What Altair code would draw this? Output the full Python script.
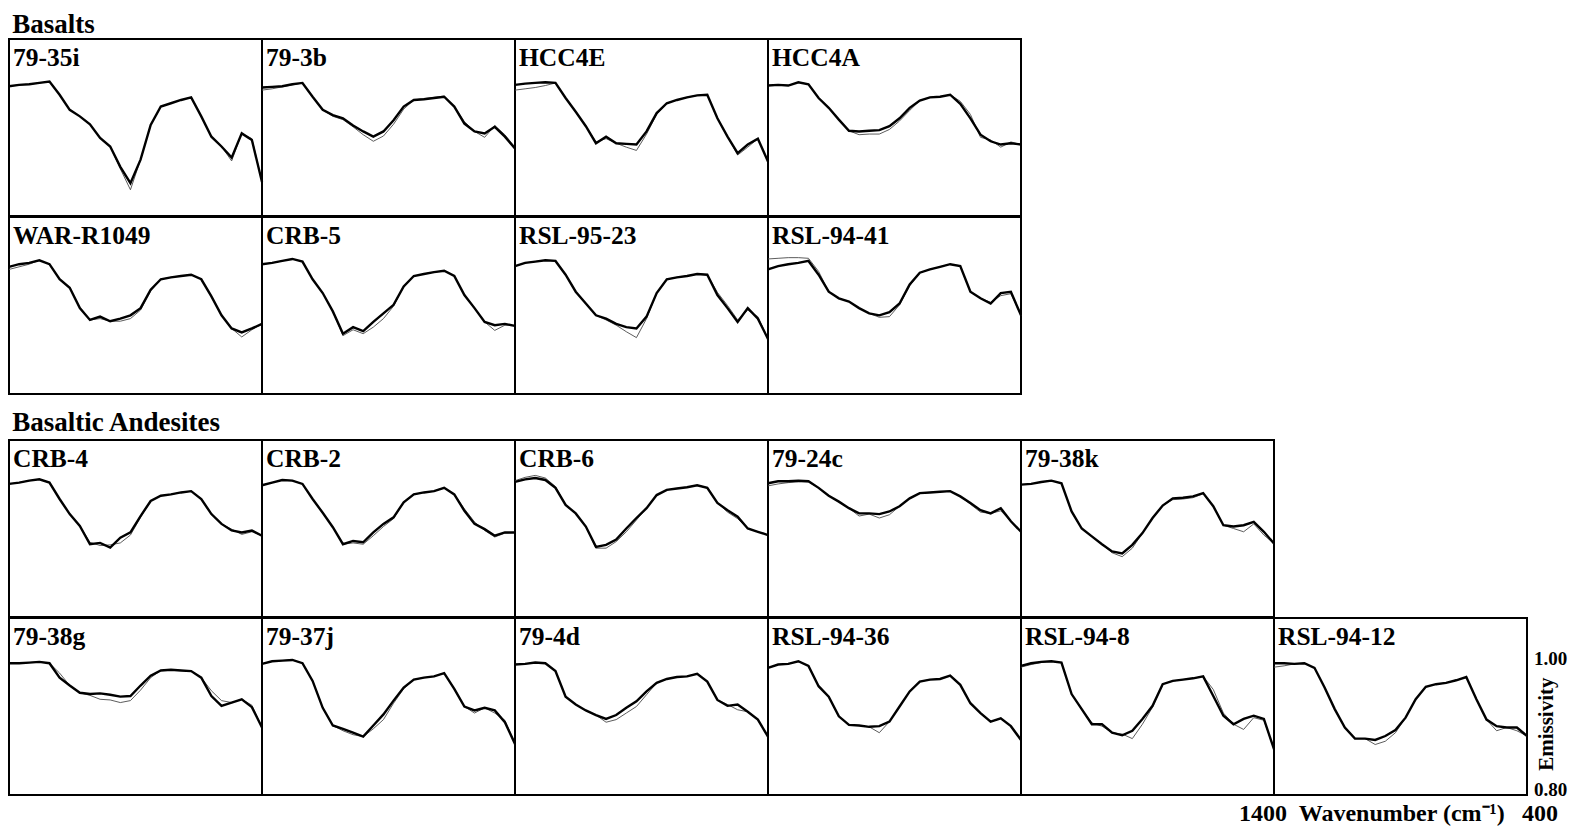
import altair as alt
import pandas as pd

# ---------------- data ----------------
wavenumbers = [1400, 1360, 1320, 1280, 1240, 1200, 1160, 1120, 1080, 1040, 1000, 960, 920,
               880, 840, 800, 760, 720, 680, 640, 600, 560, 520, 480, 440, 400]

basalt_row1 = ["79-35i", "79-3b", "HCC4E", "HCC4A"]
basalt_row2 = ["WAR-R1049", "CRB-5", "RSL-95-23", "RSL-94-41"]
andesite_row1 = ["CRB-4", "CRB-2", "CRB-6", "79-24c", "79-38k"]
andesite_row2 = ["79-38g", "79-37j", "79-4d", "RSL-94-36", "RSL-94-8", "RSL-94-12"]

measured = {
    "79-35i":    [0.998, 1.000, 1.001, 1.003, 1.005, 0.985, 0.962, 0.952, 0.940, 0.919, 0.906, 0.875, 0.850, 0.886, 0.939, 0.967, 0.972, 0.977, 0.981, 0.952, 0.921, 0.906, 0.889, 0.926, 0.916, 0.852],
    "79-3b":     [0.996, 0.997, 0.998, 1.001, 1.003, 0.982, 0.962, 0.954, 0.949, 0.938, 0.929, 0.921, 0.929, 0.946, 0.967, 0.977, 0.978, 0.980, 0.982, 0.967, 0.941, 0.929, 0.926, 0.936, 0.921, 0.903],
    "HCC4E":     [1.000, 1.002, 1.003, 1.004, 1.003, 0.980, 0.959, 0.937, 0.911, 0.921, 0.911, 0.910, 0.909, 0.929, 0.957, 0.972, 0.977, 0.981, 0.984, 0.985, 0.949, 0.921, 0.896, 0.909, 0.918, 0.883],
    "HCC4A":     [0.999, 1.000, 0.999, 1.004, 1.001, 0.980, 0.965, 0.947, 0.930, 0.929, 0.930, 0.931, 0.937, 0.949, 0.965, 0.976, 0.981, 0.982, 0.985, 0.971, 0.949, 0.924, 0.914, 0.909, 0.911, 0.909],
    "WAR-R1049": [0.994, 0.998, 1.000, 1.004, 0.998, 0.975, 0.962, 0.931, 0.913, 0.918, 0.911, 0.915, 0.920, 0.931, 0.959, 0.975, 0.978, 0.980, 0.982, 0.975, 0.949, 0.920, 0.900, 0.894, 0.900, 0.907],
    "CRB-5":     [0.998, 1.000, 1.003, 1.006, 1.002, 0.975, 0.954, 0.926, 0.892, 0.902, 0.896, 0.910, 0.923, 0.936, 0.964, 0.980, 0.983, 0.986, 0.988, 0.980, 0.951, 0.931, 0.910, 0.905, 0.907, 0.904],
    "RSL-95-23": [0.995, 1.000, 1.002, 1.004, 1.003, 0.982, 0.956, 0.938, 0.920, 0.915, 0.907, 0.902, 0.900, 0.918, 0.954, 0.975, 0.978, 0.980, 0.983, 0.982, 0.951, 0.931, 0.910, 0.931, 0.915, 0.884],
    "RSL-94-41": [0.990, 0.995, 0.998, 1.000, 1.003, 0.982, 0.956, 0.946, 0.941, 0.931, 0.923, 0.920, 0.925, 0.938, 0.967, 0.985, 0.990, 0.994, 0.998, 0.995, 0.956, 0.946, 0.938, 0.954, 0.956, 0.920],
    "CRB-4":     [1.003, 1.005, 1.008, 1.010, 1.005, 0.980, 0.957, 0.939, 0.911, 0.913, 0.906, 0.921, 0.929, 0.954, 0.977, 0.985, 0.987, 0.990, 0.992, 0.980, 0.957, 0.942, 0.932, 0.929, 0.932, 0.924],
    "CRB-2":     [1.001, 1.005, 1.009, 1.008, 1.003, 0.980, 0.959, 0.937, 0.911, 0.916, 0.914, 0.929, 0.942, 0.952, 0.975, 0.987, 0.990, 0.992, 0.997, 0.987, 0.962, 0.942, 0.934, 0.924, 0.929, 0.929],
    "CRB-6":     [1.006, 1.010, 1.012, 1.009, 0.997, 0.971, 0.958, 0.938, 0.907, 0.910, 0.918, 0.935, 0.951, 0.966, 0.986, 0.994, 0.996, 0.998, 1.001, 0.997, 0.974, 0.963, 0.953, 0.935, 0.930, 0.925],
    "79-24c":    [1.004, 1.007, 1.007, 1.008, 1.007, 0.997, 0.985, 0.976, 0.966, 0.958, 0.958, 0.957, 0.961, 0.969, 0.981, 0.989, 0.990, 0.991, 0.992, 0.984, 0.974, 0.963, 0.958, 0.966, 0.946, 0.930],
    "79-38k":    [1.002, 1.003, 1.006, 1.008, 1.004, 0.961, 0.935, 0.923, 0.911, 0.900, 0.897, 0.910, 0.928, 0.951, 0.970, 0.981, 0.982, 0.984, 0.989, 0.969, 0.940, 0.938, 0.940, 0.945, 0.930, 0.912],
    "79-38g":    [1.001, 1.001, 1.002, 1.003, 1.001, 0.979, 0.967, 0.956, 0.954, 0.955, 0.953, 0.950, 0.951, 0.967, 0.982, 0.990, 0.991, 0.990, 0.989, 0.979, 0.951, 0.936, 0.941, 0.946, 0.934, 0.903],
    "79-37j":    [1.000, 1.004, 1.005, 1.006, 1.001, 0.974, 0.933, 0.906, 0.901, 0.895, 0.889, 0.906, 0.923, 0.944, 0.964, 0.976, 0.979, 0.981, 0.986, 0.962, 0.935, 0.929, 0.933, 0.929, 0.911, 0.878],
    "79-4d":     [0.999, 1.000, 1.002, 1.001, 0.989, 0.950, 0.938, 0.929, 0.922, 0.916, 0.922, 0.933, 0.943, 0.958, 0.971, 0.977, 0.980, 0.981, 0.985, 0.973, 0.945, 0.936, 0.938, 0.927, 0.915, 0.889],
    "RSL-94-36": [0.994, 0.999, 1.000, 1.004, 0.997, 0.966, 0.950, 0.920, 0.907, 0.906, 0.904, 0.905, 0.912, 0.935, 0.958, 0.973, 0.976, 0.977, 0.982, 0.968, 0.940, 0.925, 0.912, 0.917, 0.905, 0.884],
    "RSL-94-8":  [0.997, 1.001, 1.003, 1.004, 1.002, 0.954, 0.931, 0.908, 0.908, 0.895, 0.891, 0.898, 0.916, 0.936, 0.969, 0.974, 0.976, 0.978, 0.981, 0.951, 0.921, 0.908, 0.916, 0.921, 0.916, 0.870],
    "RSL-94-12": [1.001, 1.001, 1.000, 1.001, 0.994, 0.964, 0.931, 0.903, 0.886, 0.886, 0.884, 0.890, 0.899, 0.918, 0.946, 0.965, 0.969, 0.971, 0.975, 0.980, 0.946, 0.915, 0.905, 0.903, 0.903, 0.890],
}

model = {
    "79-35i":    [0.998, 1.000, 1.001, 1.003, 1.005, 0.985, 0.962, 0.952, 0.940, 0.919, 0.906, 0.872, 0.840, 0.886, 0.939, 0.967, 0.972, 0.977, 0.981, 0.952, 0.921, 0.906, 0.884, 0.926, 0.918, 0.852],
    "79-3b":     [0.992, 0.994, 0.997, 1.000, 1.003, 0.982, 0.962, 0.952, 0.947, 0.936, 0.924, 0.914, 0.922, 0.940, 0.963, 0.977, 0.979, 0.981, 0.983, 0.967, 0.944, 0.929, 0.920, 0.938, 0.924, 0.905],
    "HCC4E":     [0.992, 0.994, 0.996, 0.999, 1.003, 0.980, 0.959, 0.937, 0.913, 0.918, 0.911, 0.905, 0.900, 0.925, 0.955, 0.972, 0.977, 0.981, 0.984, 0.985, 0.949, 0.921, 0.893, 0.905, 0.918, 0.883],
    "HCC4A":     [0.999, 1.000, 0.999, 1.004, 1.001, 0.980, 0.965, 0.947, 0.930, 0.924, 0.925, 0.925, 0.932, 0.945, 0.961, 0.976, 0.981, 0.982, 0.985, 0.975, 0.955, 0.920, 0.916, 0.905, 0.913, 0.909],
    "WAR-R1049": [0.990, 0.994, 0.998, 1.004, 0.998, 0.975, 0.962, 0.931, 0.913, 0.915, 0.911, 0.911, 0.915, 0.928, 0.957, 0.975, 0.978, 0.980, 0.982, 0.975, 0.949, 0.920, 0.900, 0.887, 0.898, 0.907],
    "CRB-5":     [0.998, 1.000, 1.003, 1.006, 1.002, 0.975, 0.954, 0.926, 0.889, 0.898, 0.892, 0.902, 0.915, 0.934, 0.964, 0.980, 0.983, 0.986, 0.988, 0.980, 0.951, 0.931, 0.910, 0.897, 0.905, 0.904],
    "RSL-95-23": [0.995, 1.000, 1.002, 1.004, 1.003, 0.982, 0.956, 0.938, 0.920, 0.913, 0.905, 0.895, 0.886, 0.915, 0.954, 0.975, 0.978, 0.980, 0.983, 0.982, 0.955, 0.935, 0.913, 0.928, 0.918, 0.884],
    "RSL-94-41": [1.006, 1.007, 1.008, 1.008, 1.007, 0.987, 0.956, 0.946, 0.941, 0.931, 0.923, 0.917, 0.918, 0.936, 0.965, 0.985, 0.990, 0.994, 0.998, 0.995, 0.956, 0.946, 0.940, 0.950, 0.953, 0.920],
    "CRB-4":     [1.003, 1.005, 1.008, 1.010, 1.005, 0.980, 0.957, 0.939, 0.914, 0.909, 0.910, 0.913, 0.925, 0.952, 0.977, 0.985, 0.987, 0.990, 0.992, 0.980, 0.957, 0.942, 0.934, 0.926, 0.930, 0.924],
    "CRB-2":     [1.001, 1.005, 1.009, 1.008, 1.003, 0.980, 0.959, 0.937, 0.911, 0.913, 0.911, 0.924, 0.938, 0.950, 0.975, 0.987, 0.990, 0.992, 0.997, 0.987, 0.965, 0.945, 0.932, 0.922, 0.928, 0.929],
    "CRB-6":     [1.008, 1.013, 1.016, 1.012, 0.999, 0.971, 0.958, 0.938, 0.905, 0.905, 0.915, 0.930, 0.948, 0.966, 0.986, 0.994, 0.996, 0.998, 1.001, 0.997, 0.974, 0.960, 0.950, 0.935, 0.930, 0.925],
    "79-24c":    [1.000, 1.003, 1.005, 1.006, 1.006, 0.997, 0.985, 0.976, 0.966, 0.954, 0.957, 0.951, 0.956, 0.969, 0.981, 0.989, 0.990, 0.991, 0.992, 0.984, 0.972, 0.960, 0.958, 0.962, 0.946, 0.930],
    "79-38k":    [1.002, 1.003, 1.006, 1.008, 1.004, 0.961, 0.935, 0.923, 0.911, 0.898, 0.892, 0.905, 0.928, 0.951, 0.970, 0.979, 0.980, 0.982, 0.988, 0.969, 0.940, 0.935, 0.930, 0.942, 0.925, 0.912],
    "79-38g":    [1.001, 1.001, 1.002, 1.003, 1.001, 0.986, 0.967, 0.956, 0.952, 0.946, 0.945, 0.941, 0.944, 0.960, 0.979, 0.990, 0.991, 0.990, 0.989, 0.979, 0.959, 0.944, 0.941, 0.946, 0.937, 0.903],
    "79-37j":    [1.000, 1.004, 1.005, 1.006, 1.001, 0.974, 0.933, 0.906, 0.898, 0.892, 0.889, 0.901, 0.915, 0.940, 0.962, 0.976, 0.979, 0.981, 0.986, 0.962, 0.935, 0.925, 0.933, 0.925, 0.914, 0.878],
    "79-4d":     [0.999, 1.000, 1.002, 1.001, 0.989, 0.950, 0.938, 0.929, 0.922, 0.911, 0.915, 0.925, 0.935, 0.953, 0.971, 0.977, 0.980, 0.981, 0.985, 0.973, 0.945, 0.938, 0.930, 0.927, 0.915, 0.889],
    "RSL-94-36": [0.994, 0.999, 1.000, 1.004, 0.997, 0.966, 0.950, 0.920, 0.907, 0.906, 0.904, 0.895, 0.912, 0.935, 0.958, 0.973, 0.976, 0.977, 0.982, 0.968, 0.940, 0.925, 0.912, 0.917, 0.905, 0.884],
    "RSL-94-8":  [0.995, 0.999, 1.002, 1.004, 1.002, 0.954, 0.931, 0.910, 0.905, 0.895, 0.893, 0.886, 0.908, 0.934, 0.969, 0.974, 0.976, 0.978, 0.981, 0.961, 0.925, 0.908, 0.900, 0.918, 0.914, 0.870],
    "RSL-94-12": [0.995, 0.997, 1.000, 1.001, 0.994, 0.964, 0.931, 0.903, 0.886, 0.886, 0.877, 0.882, 0.895, 0.918, 0.946, 0.965, 0.969, 0.971, 0.975, 0.980, 0.946, 0.915, 0.898, 0.903, 0.898, 0.890],
}

y_tick_values = [1.00, 0.80]
y_tick_labels = ["1.00", "0.80"]
x_tick_values = [1400, 400]
x_tick_labels = ["1400", "400"]
x_title = "Wavenumber (cm\u207b\u00b9)"
y_title = "Emissivity"

# ---------------- chart ----------------
FONT = "Liberation Serif"
W, H = 253, 177
x_scale = alt.Scale(domain=[1400, 400], nice=False, zero=False)
y_scale = alt.Scale(domain=[0.80, 1.07], nice=False, zero=False)


def X(field):
    return alt.X(field, type="quantitative", scale=x_scale, axis=None)


def Y(field):
    return alt.Y(field, type="quantitative", scale=y_scale, axis=None)


def txt(df, **kw):
    base = dict(font=FONT, fontWeight="bold", color="black")
    base.update(kw)
    return alt.Chart(df).mark_text(**base)


def panel(name, with_axes=False):
    df = pd.DataFrame({"wavenumber": wavenumbers,
                       "measured": measured[name],
                       "model": model[name]})
    base = alt.Chart(df)
    mod = base.mark_line(color="#4a4a4a", strokeWidth=0.9).encode(
        x=X("wavenumber"), y=Y("model"))
    mea = base.mark_line(color="black", strokeWidth=2.4).encode(
        x=X("wavenumber"), y=Y("measured"))
    lab = txt(pd.DataFrame({"w": [1400], "v": [1.07], "label": [name]}),
              align="left", baseline="alphabetic", fontSize=25.5, dx=4, dy=27).encode(
        x=X("w"), y=Y("v"), text=alt.Text("label", type="nominal"))
    layers = [mod, mea, lab]
    if with_axes:
        ylab = txt(pd.DataFrame({"w": [400, 400], "v": y_tick_values, "t": y_tick_labels}),
                   align="left", baseline="middle", dx=7, dy=-5, fontSize=19).encode(
            x=X("w"), y=Y("v"), text=alt.Text("t", type="nominal"))
        ytit = txt(pd.DataFrame({"w": [320], "v": [0.908], "t": [y_title]}),
                   align="center", baseline="middle", angle=270, fontSize=21).encode(
            x=X("w"), y=Y("v"), text=alt.Text("t", type="nominal"))
        xl1 = txt(pd.DataFrame({"w": [x_tick_values[0]], "v": [0.80], "t": [x_tick_labels[0]]}),
                  align="right", baseline="middle", dx=13, dy=19, fontSize=24).encode(
            x=X("w"), y=Y("v"), text=alt.Text("t", type="nominal"))
        xl2 = txt(pd.DataFrame({"w": [x_tick_values[1]], "v": [0.80], "t": [x_tick_labels[1]]}),
                  align="left", baseline="middle", dx=-5, dy=19, fontSize=24).encode(
            x=X("w"), y=Y("v"), text=alt.Text("t", type="nominal"))
        xtit = txt(pd.DataFrame({"w": [895], "v": [0.80], "t": [x_title]}),
                   align="center", baseline="middle", dy=19, fontSize=24).encode(
            x=X("w"), y=Y("v"), text=alt.Text("t", type="nominal"))
        layers += [ylab, ytit, xl1, xl2, xtit]
    return alt.layer(*layers).properties(width=W, height=H)


def row(names, last_axes=False):
    charts = [panel(n, with_axes=(last_axes and i == len(names) - 1)) for i, n in enumerate(names)]
    return alt.hconcat(*charts, spacing=0, bounds="flush")


def section(title, rows, offset):
    return alt.vconcat(*rows, spacing=-2,
                       title=alt.TitleParams(title, anchor="start", font=FONT, fontSize=27,
                                             fontWeight="bold", color="black", offset=offset, dx=9))


basalts = section("Basalts", [row(basalt_row1), row(basalt_row2)], offset=-1)
andesites = section("Basaltic Andesites", [row(andesite_row1), row(andesite_row2, last_axes=True)], offset=2)

chart = alt.vconcat(basalts, andesites, spacing=14).properties(
    padding={"left": -5, "top": 3, "right": 0, "bottom": 0}
).configure_view(stroke="black", strokeWidth=2)

chart.save("out.html", embed_options={"renderer": "svg", "actions": False})
